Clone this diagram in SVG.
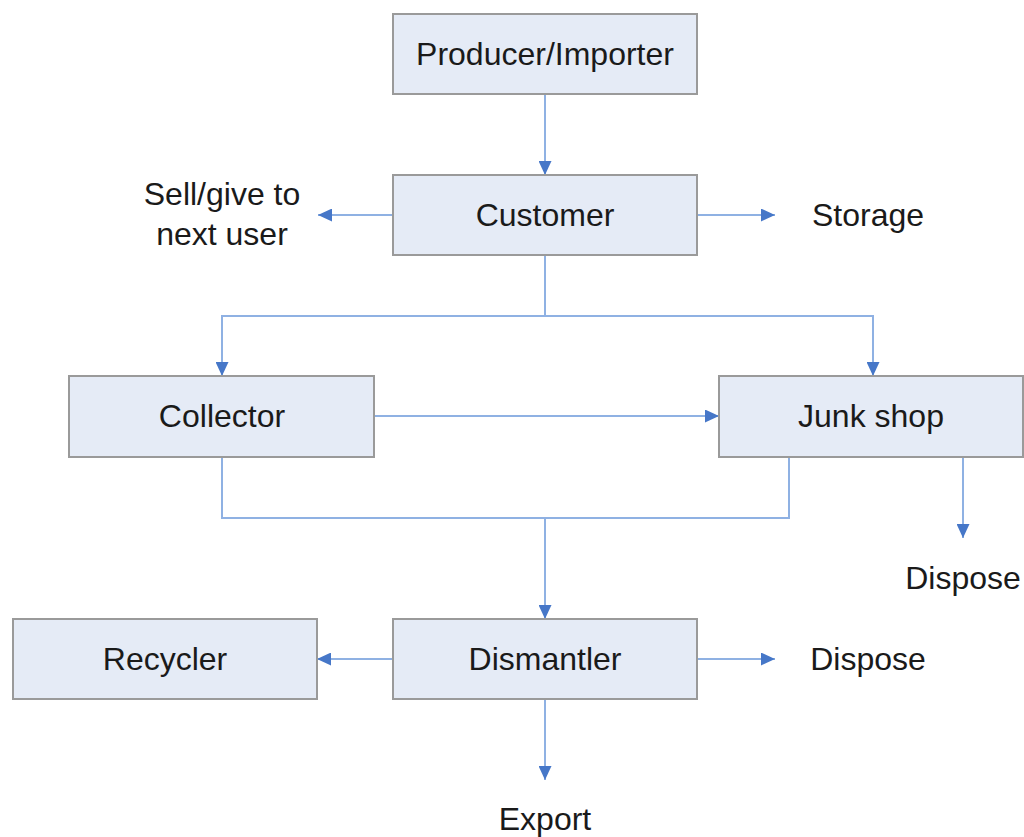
<svg xmlns="http://www.w3.org/2000/svg" width="1024" height="837" viewBox="0 0 1024 837">
<style>
.box{fill:#e5ebf6;stroke:#9a9a9a;stroke-width:2}
.t{font-family:"Liberation Sans",Arial,sans-serif;font-size:32px;fill:#1a1a1a;text-anchor:middle}
.c{fill:none;stroke:#8fb1e3;stroke-width:2}
</style>
<defs>
<marker id="ah" markerWidth="14" markerHeight="13" refX="14" refY="6.5" orient="auto" markerUnits="userSpaceOnUse">
<path d="M0,0 L14,6.5 L0,13 Z" fill="#4677c8"/>
</marker>
</defs>
<rect width="1024" height="837" fill="#ffffff"/>
<g id="connectors">
<path class="c" d="M545,94 V175" marker-end="url(#ah)"/>
<path class="c" d="M393,215 H318" marker-end="url(#ah)"/>
<path class="c" d="M697,215 H775" marker-end="url(#ah)"/>
<path class="c" d="M545,255 V316"/>
<path class="c" d="M545,316 H222 V376" marker-end="url(#ah)"/>
<path class="c" d="M545,316 H873 V376" marker-end="url(#ah)"/>
<path class="c" d="M374,416 H719" marker-end="url(#ah)"/>
<path class="c" d="M222,457 V518 H789 V457"/>
<path class="c" d="M545,518 V619" marker-end="url(#ah)"/>
<path class="c" d="M963,457 V538" marker-end="url(#ah)"/>
<path class="c" d="M393,659 H317" marker-end="url(#ah)"/>
<path class="c" d="M697,659 H775" marker-end="url(#ah)"/>
<path class="c" d="M545,699 V780" marker-end="url(#ah)"/>
</g>
<g id="producer"><rect class="box" x="393" y="14" width="304" height="80"/><text class="t" x="545" y="65">Producer/Importer</text></g>
<g id="customer"><rect class="box" x="393" y="175" width="304" height="80"/><text class="t" x="545" y="226">Customer</text></g>
<g id="sell"><text class="t" x="222" y="205">Sell/give to</text><text class="t" x="222" y="245">next user</text></g>
<g id="storage"><text class="t" x="868" y="226">Storage</text></g>
<g id="collector"><rect class="box" x="69" y="376" width="305" height="81"/><text class="t" x="222" y="427">Collector</text></g>
<g id="junkshop"><rect class="box" x="719" y="376" width="304" height="81"/><text class="t" x="871" y="427">Junk shop</text></g>
<g id="dispose1"><text class="t" x="963" y="589">Dispose</text></g>
<g id="recycler"><rect class="box" x="13" y="619" width="304" height="80"/><text class="t" x="165" y="670">Recycler</text></g>
<g id="dismantler"><rect class="box" x="393" y="619" width="304" height="80"/><text class="t" x="545" y="670">Dismantler</text></g>
<g id="dispose2"><text class="t" x="868" y="670">Dispose</text></g>
<g id="export"><text class="t" x="545" y="830">Export</text></g>
</svg>
